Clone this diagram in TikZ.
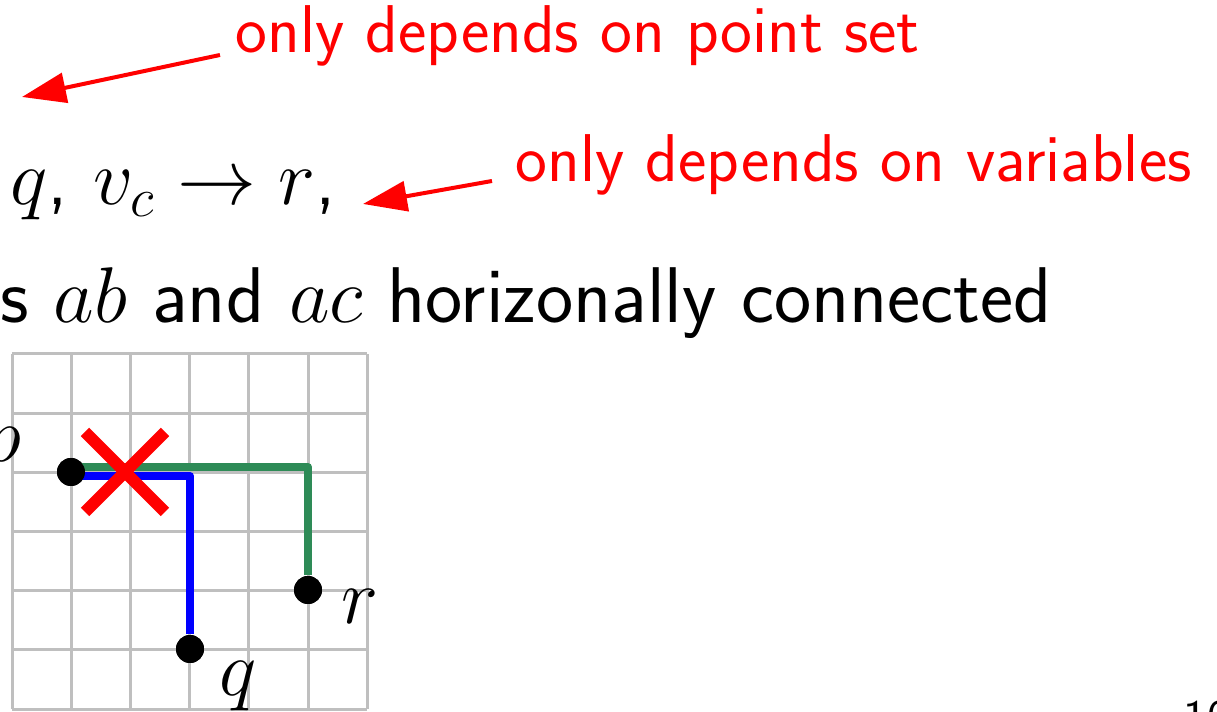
\RequirePackage{fix-cm}
\documentclass[tikz,border=0pt]{standalone}
\usepackage{fontspec}
\renewcommand{\familydefault}{\sfdefault}
\usepackage{tikz}
\usetikzlibrary{arrows.meta,positioning,calc}
\definecolor{pathgreen}{RGB}{46,139,87}

\begin{document}
\begin{tikzpicture}[x=0.25pt,y=-0.25pt,
    note/.style={red,font=\fontsize{16.9}{20}\selectfont,inner sep=0pt},
    notearrow/.style={red,line width=1pt,-{Triangle[length=11pt,width=7.5pt]}},
    bigtext/.style={font=\fontsize{19.75}{24}\selectfont,inner sep=0pt},
    pt/.style={circle,fill=black,inner sep=0pt,minimum size=7pt},
    route/.style={line width=2pt,line join=round}]
  \useasboundingbox (0,0) rectangle (1217,712);

  % Notes at the top
  \node[note,anchor=base west] (pointset) at (235,53) {only depends on point set};
  \coordinate (pointtip) at (22,97);
  \draw[notearrow] ($(pointset.base west)+(-15,2)$) -- (pointtip);

  \node[note,anchor=base west] (vars) at (515,182) {only depends on variables};
  \coordinate (varstip) at (363,204);
  \draw[notearrow] ($(vars.base west)+(-23,-1)$) -- (varstip);

  % Text lines
  \node[bigtext,anchor=base west] (maps) at (10,205) {$q$, $v_c \rightarrow r$,};
  \node[bigtext,anchor=base west] (edges) at (0,323) {s $ab$ and $ac$ horizonally connected};

  % Grid
  \foreach \i in {0,...,6} {
    \draw[black!25,line width=0.75pt] (12+59.2*\i,354) -- (12+59.2*\i,709);
    \draw[black!25,line width=0.75pt] (12,354+59.2*\i) -- (367,354+59.2*\i);
  }

  % Points
  \node[pt] (p) at (71,472) {};
  \node[pt] (q) at (190,649) {};
  \node[pt] (r) at (308,590) {};
  \node[bigtext,anchor=east] (plabel) at (22,452) {$p$};
  \node[bigtext] (qlabel) at (238,686) {$q$};
  \node[bigtext] (rlabel) at (360,606) {$r$};

  % Routes
  \draw[route,pathgreen] ($(p)+(0,-5)$) -| (r);
  \draw[route,blue] ($(p)+(0,4)$) -| (q);
  \node[pt] at (p) {};
  \node[pt] at (q) {};
  \node[pt] at (r) {};

  % Cross
  \coordinate (cross) at (125,472);
  \draw[red,line width=3pt] ($(cross)+(-40,-40)$) -- ($(cross)+(40,40)$);
  \draw[red,line width=3pt] ($(cross)+(-40,40)$) -- ($(cross)+(40,-40)$);

  % Page number
  \node[font=\fontsize{12}{14}\selectfont,anchor=north west,inner sep=0pt] (pagenum) at (1183,700) {10};
\end{tikzpicture}
\end{document}
